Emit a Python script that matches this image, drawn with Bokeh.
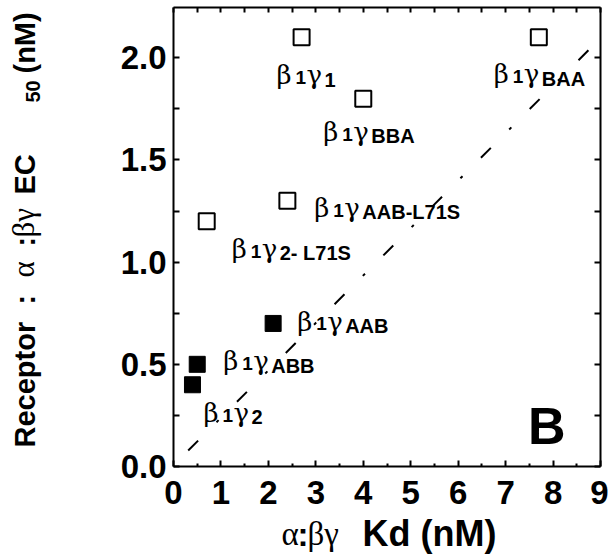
from bokeh.plotting import figure
from bokeh.layouts import row, column
from bokeh.models import Range1d, LinearAxis, FixedTicker, NumeralTickFormatter
from bokeh.core.properties import value
from bokeh.embed import file_html
from bokeh.resources import INLINE

# ---------------- data ----------------
open_subs = ["1", "BBA", "BAA", "AAB-L71S", "2- L71S"]
open_kd = [2.7, 4.0, 7.7, 2.4, 0.7]
open_ec50 = [2.1, 1.8, 2.1, 1.3, 1.2]

filled_subs = ["AAB", "ABB", "2"]
filled_kd = [2.1, 0.5, 0.4]
filled_ec50 = [0.7, 0.5, 0.4]

fit_kd = [0.31, 8.76]
fit_ec50 = [0.078, 2.04]

x_ticks = [0, 1, 2, 3, 4, 5, 6, 7, 8, 9]
x_minor = [0.5, 1.5, 2.5, 3.5, 4.5, 5.5, 6.5, 7.5, 8.5]
y_ticks = [0.0, 0.5, 1.0, 1.5, 2.0]
y_minor = [0.25, 0.75, 1.25, 1.75]

# label placement (pixels from the point: right, down)
open_off = [(-25, 47), (-40, 42), (-45, 46), (27, 16), (25, 37)]
filled_off = [(24, 7), (26, 6), (11, 37)]

SERIF = "Liberation Serif"
GREEK = "DejaVu Serif"
SANS = "Liberation Sans"
BASE_FIX = 0.34  # baseline correction (fraction of font size)

LEFT_W, MAIN_W, TOP_H, BOT_H = 50, 558, 510, 45

# ---------------- main plot ----------------
p = figure(width=MAIN_W, height=TOP_H, x_range=Range1d(0, 9), y_range=Range1d(0, 2.246),
           output_backend="svg", toolbar_location=None, frame_align=False,
           min_border_left=123, min_border_right=8, min_border_top=7, min_border_bottom=44)
p.grid.visible = False
p.outline_line_color = None


def style(ax, major_len=6, minor_len=3):
    ax.axis_line_width = 2
    ax.axis_line_color = "black"
    ax.major_tick_in = major_len
    ax.major_tick_out = 0
    ax.minor_tick_in = minor_len
    ax.minor_tick_out = 0
    ax.major_tick_line_width = 2
    ax.minor_tick_line_width = 2
    ax.major_tick_line_color = "black"
    ax.minor_tick_line_color = "black"
    ax.major_label_text_font = SANS
    ax.major_label_text_font_style = "bold"
    ax.major_label_text_color = "black"
    ax.major_label_text_font_size = "33px"


p.xaxis.ticker = FixedTicker(ticks=x_ticks, minor_ticks=x_minor)
p.yaxis.ticker = FixedTicker(ticks=y_ticks, minor_ticks=y_minor)
p.yaxis.formatter = NumeralTickFormatter(format="0.0")
style(p.xaxis[0], 6, 3)
style(p.yaxis[0], 6, 6)
p.xaxis.major_label_standoff = 14
p.yaxis.major_label_standoff = 7

# mirror axes: tick marks only (all ticks given as unlabeled minor ticks)
top = LinearAxis(ticker=FixedTicker(ticks=[], minor_ticks=sorted(x_ticks + x_minor)))
style(top, 0, 5)
top.major_label_standoff = 0
p.add_layout(top, "above")
right = LinearAxis(ticker=FixedTicker(ticks=[], minor_ticks=sorted(y_ticks + y_minor)))
style(right, 0, 6)
right.major_label_standoff = 0
p.add_layout(right, "right")

# fit line
p.line(fit_kd, fit_ec50, line_color="black", line_width=2, line_dash="14 26 3 26")

# points
p.scatter(open_kd, open_ec50, marker="square", size=16, fill_color=None,
          line_color="black", line_width=2)
p.scatter(filled_kd, filled_ec50, marker="square", size=16, fill_color="black",
          line_color="black", line_width=1)


def put(f, x, y, text, font, style_, size, dx=0, dy=0, rotated=False, align="left"):
    if rotated:
        dx = dx - BASE_FIX * size
        angle = 1.5707963
    else:
        dy = dy - BASE_FIX * size
        angle = 0.0
    f.text(x=[x], y=[y], text=[text], text_font=value(font), text_font_style=style_,
           text_font_size=f"{size}px", text_color="black", angle=angle,
           x_offset=dx, y_offset=dy, text_align=align, text_baseline="alphabetic")


def point_label(x, y, sub, off):
    dx, dy = off
    pieces = [("\u03b2", GREEK, "normal", 26, 0, 0),
              ("1", SANS, "bold", 19, 19, 0),
              ("\u03b3", GREEK, "normal", 26, 30, 0),
              (sub, SANS, "bold", 20, 48, 2)]
    for t, f, s, fs, px, py in pieces:
        put(p, x, y, t, f, s, fs, dx + px, dy + py)


for x, y, s, o in zip(open_kd, open_ec50, open_subs, open_off):
    point_label(x, y, s, o)
for x, y, s, o in zip(filled_kd, filled_ec50, filled_subs, filled_off):
    point_label(x, y, s, o)

# panel letter
put(p, 9, 0, "B", SANS, "bold", 52, -35, -23, align="right")


# ---------------- axis titles (separate text panels) ----------------
def text_fig(w, h):
    f = figure(width=w, height=h, x_range=Range1d(0, w), y_range=Range1d(0, h),
               output_backend="svg", toolbar_location=None, min_border=0,
               x_axis_type=None, y_axis_type=None, frame_align=False)
    f.outline_line_color = None
    return f


# y title, rotated: "Receptor : α :βγ  EC 50(nM)"  (positions measured from panel bottom)
ylab = text_fig(LEFT_W, TOP_H)
ybase = 34
yl = [("Receptor", SANS, "bold", 29, 63, 0),
      (":", SANS, "bold", 29, 206, 0),
      ("\u03b1", SERIF, "normal", 31, 233, 0),
      (":", SANS, "bold", 29, 264, 0),
      ("\u03b2\u03b3", SERIF, "normal", 31, 273, 0),
      ("EC", SANS, "bold", 29, 316, 0),
      ("50", SANS, "bold", 20, 408, 5),
      ("(nM)", SANS, "bold", 29, 437, 0)]
for t, f, s, fs, along, shift in yl:
    put(ylab, ybase + shift, along, t, f, s, fs, rotated=True)

# x title: "α:βγ Kd (nM)"
xlab = text_fig(LEFT_W + MAIN_W, BOT_H)
xl = [("\u03b1", SERIF, "normal", 33, 281),
      (":", SANS, "bold", 33, 297),
      ("\u03b2\u03b3", SERIF, "normal", 33, 307),
      ("Kd (nM)", SANS, "bold", 36, 362)]
for t, f, s, fs, px in xl:
    put(xlab, px, 10, t, f, s, fs)

layout = column(row(ylab, p), xlab)
open("out.html", "w").write(file_html(layout, INLINE))
